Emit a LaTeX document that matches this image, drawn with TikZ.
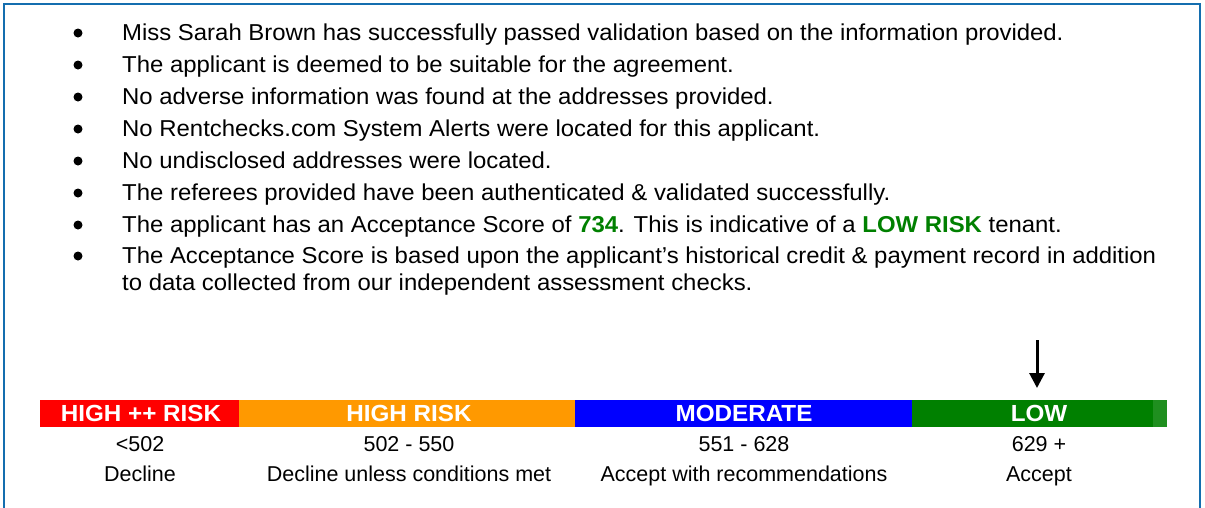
\documentclass[tikz,border=0pt]{standalone}
\usepackage{fontspec}
\setmainfont{Liberation Sans}
\newfontfamily\widefont[FakeStretch=1.04]{Liberation Sans}
\usetikzlibrary{arrows.meta}
\definecolor{frameblue}{RGB}{20,110,175}
\definecolor{riskred}{RGB}{255,0,0}
\definecolor{riskorange}{RGB}{255,153,0}
\definecolor{riskblue}{RGB}{0,0,255}
\definecolor{riskgreen}{RGB}{0,128,0}
\definecolor{textgreen}{RGB}{0,128,0}
\tikzset{
  bodytext/.style={anchor=base west, inner sep=0pt, font=\widefont\fontsize{23}{27}\selectfont},
  bulletdot/.style={circle, fill=black, inner sep=0pt, minimum size=9pt},
  barseg/.style={anchor=north west, inner sep=0pt, minimum height=27pt},
  barlabel/.style={inner sep=0pt, text=white, font=\widefont\bfseries\fontsize{23.3}{27}\selectfont},
  undertext/.style={anchor=base, inner sep=0pt, font=\fontsize{21.5}{26}\selectfont},
}
\begin{document}
\begin{tikzpicture}[x=1pt,y=-1pt]
\useasboundingbox (0,0) rectangle (1205,507);
\draw[frameblue, line width=2pt] (4,520) -- (4,4) -- (1200,4) -- (1200,520);

% bullets and lines
\foreach \y/\name in {40.5/b1,72.5/b2,104.5/b3,136.5/b4,168.5/b5,200.5/b6,232.5/b7,263.5/b8}{
  \node[bulletdot] (\name) at (78,\y-7.5) {};
}
\node[bodytext] (t1) at (122,40.5) {Miss Sarah Brown has successfully passed validation based on the information provided.};
\node[bodytext] (t2) at (122,72.5) {The applicant is deemed to be suitable for the agreement.};
\node[bodytext] (t3) at (122,104.5) {No adverse information was found at the addresses provided.};
\node[bodytext] (t4) at (122,136.5) {No Rentchecks.com System Alerts were located for this applicant.};
\node[bodytext] (t5) at (122,168.5) {No undisclosed addresses were located.};
\node[bodytext] (t6) at (122,200.5) {The referees provided have been authenticated \& validated successfully.};
\node[bodytext] (t7) at (122,232.5) {The applicant has an Acceptance Score of \textbf{\textcolor{textgreen}{734}}. This is indicative of a \textbf{\textcolor{textgreen}{LOW RISK}} tenant.};
\node[bodytext] (t8) at (122,263.5) {The Acceptance Score is based upon the applicant’s historical credit \& payment record in addition};
\node[bodytext] (t9) at (122,290.5) {to data collected from our independent assessment checks.};

% bar
\node[barseg, fill=riskred, minimum width=199pt] (s1) at (40,400) {};
\node[barseg, fill=riskorange, minimum width=336pt] (s2) at (239,400) {};
\node[barseg, fill=riskblue, minimum width=337pt] (s3) at (575,400) {};
\node[barseg, fill=riskgreen, minimum width=255pt] (s4) at (912,400) {};
\fill[riskgreen!88!white] (1153,400) rectangle (1167,427);
\node[barlabel] (l1) at (141,413.5) {HIGH ++ RISK};
\node[barlabel] (l2) at (409,413.5) {HIGH RISK};
\node[barlabel] (l3) at (744,413.5) {MODERATE};
\node[barlabel] (l4) at (1039,413.5) {LOW};

% under labels
\node[undertext] (r1) at (140,451.5) {<502};
\node[undertext] (r2) at (409,451.5) {502 - 550};
\node[undertext] (r3) at (744,451.5) {551 - 628};
\node[undertext] (r4) at (1039,451.5) {629 +};
\node[undertext] (d1) at (140,481.5) {Decline};
\node[undertext] (d2) at (409,481.5) {Decline unless conditions met};
\node[undertext] (d3) at (744,481.5) {Accept with recommendations};
\node[undertext] (d4) at (1039,481.5) {Accept};

% arrow
\coordinate (atop) at (1037,340);
\coordinate (abot) at (1037,388);
\draw[line width=3pt, -{Triangle[width=15pt,length=15pt]}] (atop) -- (abot);
\end{tikzpicture}
\end{document}
